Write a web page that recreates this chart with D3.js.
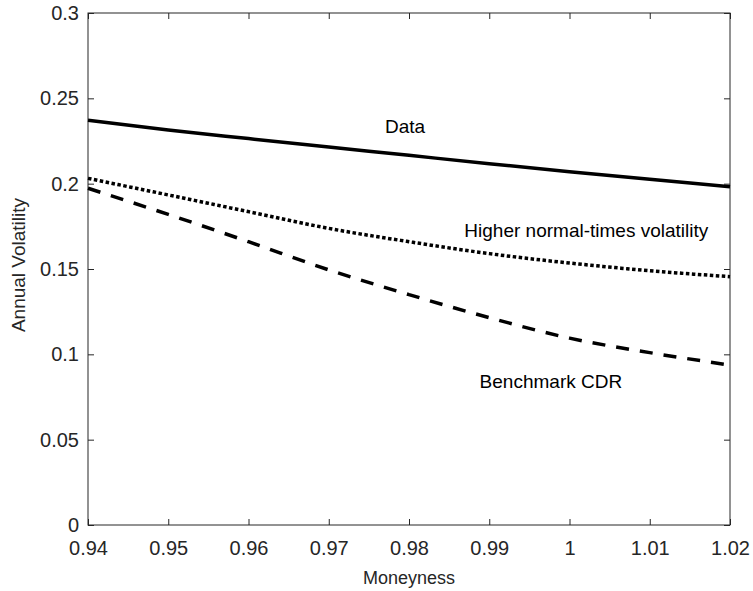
<!DOCTYPE html>
<head>
  <meta charset="utf-8">
  <script src="https://d3js.org/d3.v7.min.js"></script>
  <style>
  body,html {background:white; margin:0; font-family:"Liberation Sans", Arial, Helvetica, sans-serif;}
  .tick text {fill:#262626;}
  </style>
</head>
<body>
<svg id="chart"></svg>
<script>
  const moneyness = [0.94, 0.95, 0.96, 0.97, 0.98, 0.99, 1.00, 1.01, 1.02];
  const dataVol   = [0.2372, 0.2314, 0.2264, 0.2215, 0.2166, 0.2117, 0.2070, 0.2026, 0.1982];
  const higherVol = [0.2031, 0.1934, 0.1836, 0.1738, 0.1660, 0.1590, 0.1535, 0.1490, 0.1455];
  const benchVol  = [0.1973, 0.1820, 0.1660, 0.1495, 0.1350, 0.1215, 0.1095, 0.1010, 0.0937];
  const xTicks = [0.94, 0.95, 0.96, 0.97, 0.98, 0.99, 1, 1.01, 1.02];
  const yTicks = [0, 0.05, 0.1, 0.15, 0.2, 0.25, 0.3];

  const W = 753, H = 591;
  const mLeft = 88, mRight = 730, mTop = 13, mBottom = 525;
  const axisColor = "#262626";

  const svg = d3.select("#chart").attr("width", W).attr("height", H);

  const x = d3.scaleLinear().domain([0.94, 1.02]).range([mLeft, mRight]);
  const y = d3.scaleLinear().domain([0, 0.3]).range([mBottom, mTop]);

  // box
  svg.append("rect")
    .attr("x", mLeft).attr("y", mTop)
    .attr("width", mRight - mLeft).attr("height", mBottom - mTop)
    .attr("fill", "none").attr("stroke", axisColor).attr("stroke-width", 1);

  const fmt = d => String(+d.toFixed(2));

  function styleAxis(g) {
    g.select(".domain").remove();
    g.selectAll(".tick line").attr("stroke", axisColor);
    g.selectAll(".tick text").style("font-size", "20px").attr("font-family", "Liberation Sans, Arial, sans-serif");
  }

  svg.append("g").attr("transform", `translate(0,${mBottom})`)
    .call(d3.axisBottom(x).tickValues(xTicks).tickFormat(fmt).tickSizeInner(-6).tickSizeOuter(0).tickPadding(16))
    .call(styleAxis);
  svg.append("g").attr("transform", `translate(0,${mTop})`)
    .call(d3.axisTop(x).tickValues(xTicks).tickFormat("").tickSizeInner(-6).tickSizeOuter(0))
    .call(styleAxis);
  svg.append("g").attr("transform", `translate(${mLeft},0)`)
    .call(d3.axisLeft(y).tickValues(yTicks).tickFormat(fmt).tickSizeInner(-6).tickSizeOuter(0).tickPadding(9))
    .call(styleAxis);
  svg.append("g").attr("transform", `translate(${mRight},0)`)
    .call(d3.axisRight(y).tickValues(yTicks).tickFormat("").tickSizeInner(-6).tickSizeOuter(0))
    .call(styleAxis);

  const line = d3.line().x(d => x(d[0])).y(d => y(d[1])).curve(d3.curveMonotoneX);
  const series = [
    {vals: dataVol, dash: null},
    {vals: higherVol, dash: "3.5,2.5"},
    {vals: benchVol, dash: "13,11"}
  ];
  svg.append("g").selectAll("path")
    .data(series)
    .enter()
    .append("path")
    .attr("d", s => line(moneyness.map((m, i) => [m, s.vals[i]])))
    .attr("fill", "none")
    .attr("stroke", "black")
    .attr("stroke-width", 3.5)
    .attr("stroke-dasharray", s => s.dash);

  // annotations
  const notes = [
    {t: "Data", m: 0.9770, v: 0.2297},
    {t: "Higher normal-times volatility", m: 0.9869, v: 0.1690},
    {t: "Benchmark CDR", m: 0.9888, v: 0.0801}
  ];
  svg.append("g").selectAll("text")
    .data(notes)
    .enter()
    .append("text")
    .attr("x", d => x(d.m))
    .attr("y", d => y(d.v))
    .style("font-size", "19px")
    .attr("fill", "black")
    .text(d => d.t);

  svg.append("text")
    .attr("x", (mLeft + mRight) / 2).attr("y", 584)
    .attr("text-anchor", "middle")
    .style("font-size", "18px").attr("fill", axisColor)
    .text("Moneyness");
  svg.append("text")
    .attr("transform", `translate(25,${(mTop + mBottom) / 2 - 4}) rotate(-90)`)
    .attr("text-anchor", "middle")
    .style("font-size", "19px").attr("fill", axisColor)
    .text("Annual Volatility");
</script>
</body>
